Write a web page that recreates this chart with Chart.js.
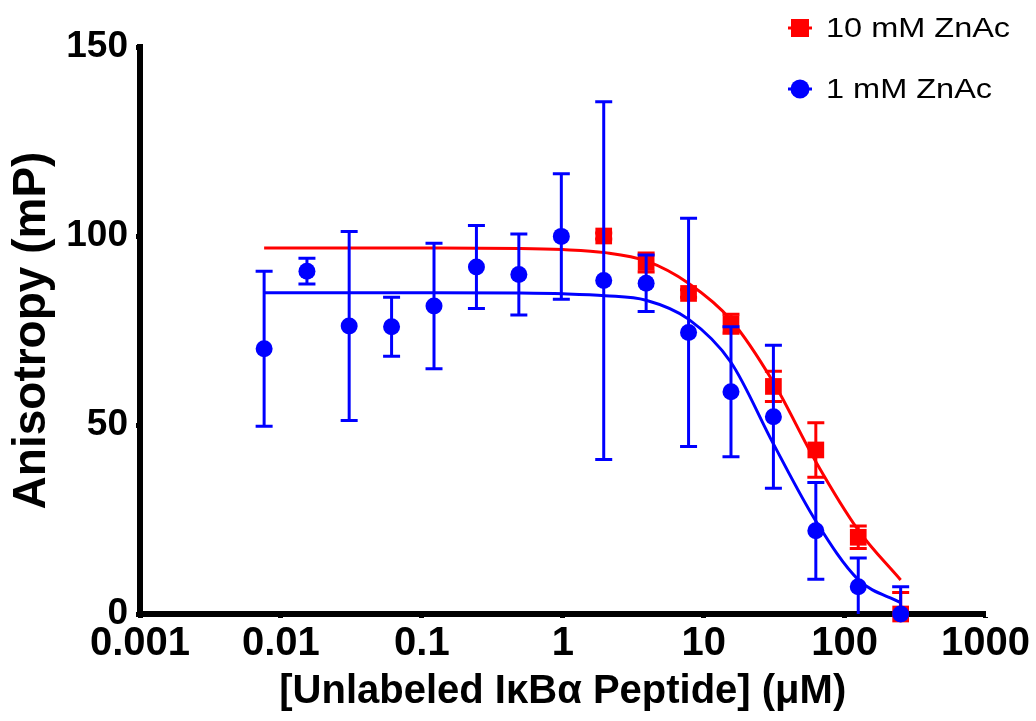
<!DOCTYPE html>
<html>
<head>
<meta charset="utf-8">
<title>Anisotropy competition</title>
<script src="https://cdn.jsdelivr.net/npm/chart.js@4.4.1/dist/chart.umd.min.js"></script>
<style>
  html, body { margin: 0; padding: 0; background: #fff; }
  #wrap { width: 1036px; height: 721px; }
</style>
</head>
<body>
<div id="wrap"><canvas id="chart"></canvas></div>
<script>
// concentrations (uM), 2-fold dilution series
var conc = [0.0076, 0.0153, 0.0305, 0.061, 0.122, 0.244, 0.488, 0.977, 1.953, 3.906, 7.8125, 15.625, 31.25, 62.5, 125, 250];

// 1 mM ZnAc (blue circles)
var blueVals = [70.2, 90.7, 76.2, 76.0, 81.5, 91.8, 89.8, 99.9, 88.2, 87.5, 74.5, 58.8, 52.2, 22.0, 7.2, 0];
var blueErr  = [20.5, 3.4, 25.0, 7.8, 16.6, 11.0, 10.7, 16.6, 47.3, 7.5, 30.2, 17.2, 18.9, 12.8, 7.6, 7.2];

// 10 mM ZnAc (red squares)
var redConc = [1.953, 3.906, 7.8125, 15.625, 31.25, 62.5, 125, 250];
var redVals = [100.0, 93.0, 84.8, 76.8, 60.2, 43.4, 20.3, 0];
var redErr  = [0.8, 2.5, 1.0, 2.5, 4.0, 7.2, 3.0, 5.7];

// fitted curves
var curveX    = [0.0076, 0.1, 0.5, 1, 2, 3.9, 7.8, 15.6, 31.25, 62.5, 125, 250];
var redCurve  = [96.8, 96.8, 96.7, 96.4, 95.6, 93.4, 87.5, 77.8, 61.3, 40.3, 22.2, 9.0];
var blueCurve = [85.0, 85.0, 84.9, 84.7, 84.2, 83.0, 78.0, 66.6, 45.0, 24.6, 9.1, 3.0];

var xTicks = [0.001, 0.01, 0.1, 1, 10, 100, 1000];
var xTickLabels = ['0.001', '0.01', '0.1', '1', '10', '100', '1000'];
var yTicks = [0, 50, 100, 150];

var RED = '#ff0000';
var BLUE = '#0000ff';
var FONT = '"Liberation Sans", Arial, sans-serif';

function pts(xs, ys) {
	var out = [];
	for (var i = 0; i < xs.length; i++) out.push({x: xs[i], y: ys[i]});
	return out;
}

// error bars, drawn just before each point dataset
var errorBars = {
	id: 'errorBars',
	beforeDatasetDraw: function(chart, args) {
		var ds = chart.data.datasets[args.index];
		if (!ds.errors) return;
		var ctx = chart.ctx;
		var xs = chart.scales.x, ys = chart.scales.y;
		var area = chart.chartArea;
		ctx.save();
		ctx.beginPath();
		ctx.rect(area.left, area.top - 10, area.right - area.left, area.bottom - area.top + 10);
		ctx.clip();
		ctx.strokeStyle = ds.borderColor;
		ctx.lineWidth = 3;
		for (var i = 0; i < ds.data.length; i++) {
			var p = ds.data[i];
			var e = ds.errors[i];
			var px = xs.getPixelForValue(p.x);
			var top = ys.getPixelForValue(p.y + e);
			var bot = ys.getPixelForValue(p.y - e);
			ctx.beginPath();
			ctx.moveTo(px, top); ctx.lineTo(px, bot);
			ctx.moveTo(px - 8.5, top); ctx.lineTo(px + 8.5, top);
			ctx.moveTo(px - 8.5, bot); ctx.lineTo(px + 8.5, bot);
			ctx.stroke();
		}
		ctx.restore();
	}
};

// legend in the top right corner
var cornerLegend = {
	id: 'cornerLegend',
	afterDraw: function(chart) {
		var ctx = chart.ctx;
		var rows = chart.data.datasets.filter(function(d) { return d.errors; });
		rows.sort(function(a, b) { return a.legendRow - b.legendRow; });
		rows.forEach(function(ds, i) {
			var cx = 800, cy = 28 + i * 61;
			ctx.save();
			ctx.fillStyle = ds.backgroundColor;
			ctx.strokeStyle = ds.borderColor;
			ctx.lineWidth = 3;
			ctx.beginPath();
			ctx.moveTo(cx - 12, cy); ctx.lineTo(cx + 12, cy);
			ctx.stroke();
			ctx.beginPath();
			if (ds.pointStyle === 'rect') {
				ctx.rect(cx - 9, cy - 9, 18, 18);
			} else {
				ctx.arc(cx, cy, 9.5, 0, Math.PI * 2);
			}
			ctx.fill();
			ctx.translate(826, cy);
			ctx.scale(1.16, 1);
			ctx.fillStyle = '#000';
			ctx.font = '28px ' + FONT;
			ctx.textBaseline = 'middle';
			ctx.fillText(ds.label, 0, 1);
			ctx.restore();
		});
	}
};

var chart = new Chart(document.getElementById('chart'), {
	type: 'scatter',
	data: {
		datasets: [
			{
				label: '1 mM ZnAc',
				legendRow: 1,
				data: pts(conc, blueVals),
				errors: blueErr,
				backgroundColor: BLUE,
				borderColor: BLUE,
				pointStyle: 'circle',
				pointRadius: 8.5,
				borderWidth: 0,
				clip: false
			},
			{
				label: '10 mM ZnAc',
				legendRow: 0,
				data: pts(redConc, redVals),
				errors: redErr,
				backgroundColor: RED,
				borderColor: RED,
				pointStyle: 'rect',
				pointRadius: 11.8,
				borderWidth: 0,
				clip: false
			},
			{
				data: pts(curveX, blueCurve),
				showLine: true,
				borderColor: BLUE,
				borderWidth: 3,
				pointRadius: 0,
				cubicInterpolationMode: 'monotone'
			},
			{
				data: pts(curveX, redCurve),
				showLine: true,
				borderColor: RED,
				borderWidth: 3,
				pointRadius: 0,
				cubicInterpolationMode: 'monotone'
			}
		]
	},
	options: {
		responsive: true,
		maintainAspectRatio: false,
		animation: false,
		layout: { padding: { left: 0, right: 48, top: 47, bottom: 0 } },
		plugins: {
			legend: { display: false },
			tooltip: { enabled: false }
		},
		scales: {
			x: {
				type: 'logarithmic',
				min: 0.001,
				max: 1000,
				afterBuildTicks: function(scale) {
					scale.ticks = xTicks.map(function(v) { return {value: v}; });
				},
				afterFit: function(scale) { scale.height = 107; },
				grid: { display: true, drawOnChartArea: false, drawTicks: true, tickLength: 4, tickWidth: 5, color: '#000' },
				border: { display: true, color: '#000', width: 6 },
				ticks: {
					autoSkip: false,
					maxRotation: 0,
					padding: 6,
					color: '#000',
					font: { family: FONT, size: 40, weight: 'bold', lineHeight: 1 },
					callback: function(v) {
						var i = xTicks.indexOf(v);
						return i >= 0 ? xTickLabels[i] : '';
					}
				},
				title: {
					display: true,
					text: '[Unlabeled I\u03baB\u03b1 Peptide] (\u03bcM)',
					color: '#000',
					font: { family: FONT, size: 40, weight: 'bold', lineHeight: 1 },
					padding: { top: 0, bottom: 9 }
				}
			},
			y: {
				min: 0,
				max: 150,
				afterBuildTicks: function(scale) {
					scale.ticks = yTicks.map(function(v) { return {value: v}; });
				},
				afterFit: function(scale) { scale.width = 140; },
				grid: { display: true, drawOnChartArea: false, drawTicks: true, tickLength: 4, tickWidth: 5, color: '#000' },
				border: { display: true, color: '#000', width: 6 },
				ticks: {
					padding: 8,
					color: '#000',
					font: { family: FONT, size: 37, weight: 'bold', lineHeight: 1 }
				},
				title: {
					display: true,
					text: 'Anisotropy (mP)',
					color: '#000',
					font: { family: FONT, size: 46, weight: 'bold', lineHeight: 1 },
					padding: { top: 9, bottom: 0 }
				}
			}
		}
	},
	plugins: [errorBars, cornerLegend]
});
</script>
</body>
</html>
